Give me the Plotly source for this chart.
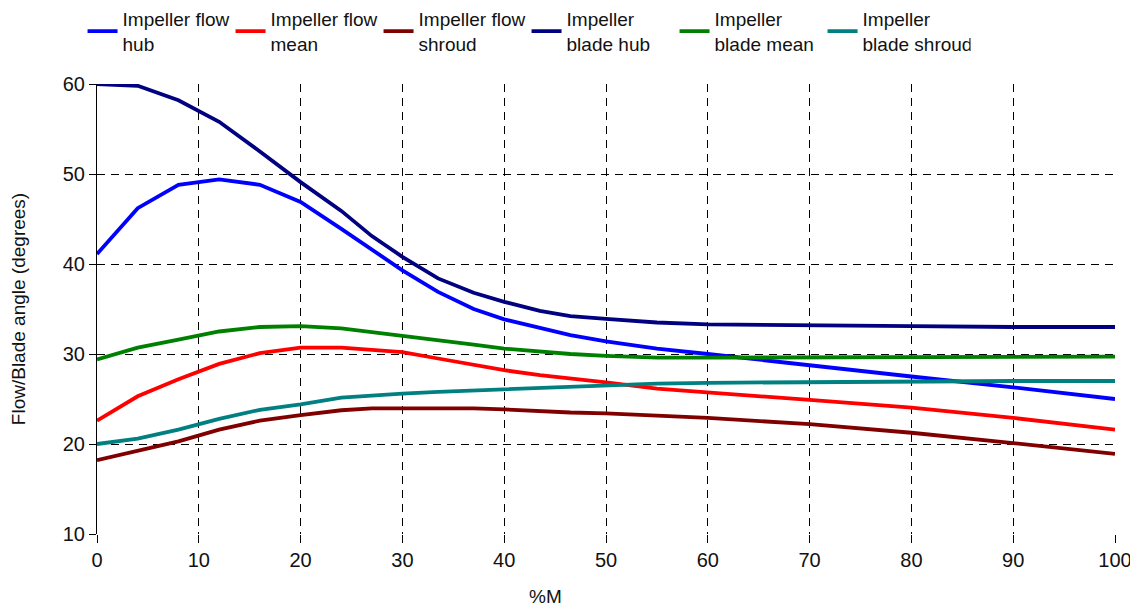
import plotly.graph_objects as go

x_pct = [0, 4, 8, 12, 16, 20, 24, 27, 30, 33.5, 37, 40, 43.5, 46.5, 50, 55, 60, 70, 80, 90, 100]

flow_hub = [41.1, 46.2, 48.8, 49.4, 48.8, 46.9, 43.9, 41.6, 39.3, 36.9, 35.0, 33.85, 32.9, 32.1, 31.4, 30.6, 30.0, 28.7, 27.5, 26.3, 25.0]
flow_mean = [22.6, 25.3, 27.2, 28.9, 30.1, 30.7, 30.7, 30.5, 30.2, 29.5, 28.8, 28.2, 27.65, 27.3, 26.85, 26.15, 25.7, 24.9, 24.05, 22.9, 21.6]
flow_shroud = [18.2, 19.2, 20.3, 21.6, 22.6, 23.2, 23.75, 23.95, 23.95, 24.0, 23.95, 23.85, 23.65, 23.5, 23.4, 23.15, 22.9, 22.2, 21.25, 20.1, 18.9]
blade_hub = [60.0, 59.8, 58.2, 55.8, 52.5, 49.1, 45.9, 43.1, 40.8, 38.4, 36.8, 35.8, 34.8, 34.2, 33.9, 33.5, 33.3, 33.15, 33.1, 33.0, 33.0]
blade_mean = [29.4, 30.7, 31.6, 32.5, 33.0, 33.1, 32.85, 32.45, 32.0, 31.5, 31.05, 30.6, 30.25, 30.0, 29.8, 29.6, 29.6, 29.65, 29.7, 29.7, 29.7]
blade_shroud = [20.0, 20.6, 21.6, 22.8, 23.8, 24.4, 25.15, 25.4, 25.6, 25.8, 25.95, 26.1, 26.25, 26.4, 26.55, 26.7, 26.8, 26.9, 26.95, 27.0, 27.0]

series_names = ["Impeller flow<br>hub", "Impeller flow<br>mean", "Impeller flow<br>shroud",
                "Impeller<br>blade hub", "Impeller<br>blade mean", "Impeller<br>blade shroud"]
series_values = [flow_hub, flow_mean, flow_shroud, blade_hub, blade_mean, blade_shroud]
series_colors = ["#0000FF", "#FF0000", "#800000", "#000080", "#008000", "#008080"]

x_ticks = list(range(0, 101, 10))
y_ticks = list(range(10, 61, 10))

fig = go.Figure()
for name, vals, col in zip(series_names, series_values, series_colors):
    fig.add_trace(go.Scatter(x=x_pct, y=vals, mode="lines", name=name,
                             line=dict(color=col, width=3.8), cliponaxis=False))

font_family = "Liberation Sans, Arial, sans-serif"
# The page body adds an 8px offset, so the figure is sized 8px smaller on each side
fig.update_layout(
    width=1130, height=601,
    margin=dict(l=89, r=23, t=76, b=75, autoexpand=False),
    paper_bgcolor="white", plot_bgcolor="white",
    font=dict(family=font_family, size=20, color="#111"),
    showlegend=True,
    legend=dict(orientation="h", x=-0.0142, xanchor="left", yref="paper", y=1.187, yanchor="top",
                font=dict(size=19, family=font_family, color="#111"),
                itemwidth=30, entrywidth=103, tracegroupgap=0, traceorder="normal",
                bgcolor="rgba(0,0,0,0)"),
    xaxis=dict(range=[0, 100], tickvals=x_ticks, ticktext=[str(v) for v in x_ticks],
               showgrid=True, gridcolor="black", gridwidth=1, griddash="8px,6px",
               zeroline=False, showline=False, ticks="outside", ticklen=8, tickcolor="black",
               tickfont=dict(size=20), automargin=False),
    yaxis=dict(range=[10, 60], tickvals=y_ticks, ticktext=[str(v) for v in y_ticks],
               showgrid=True, gridcolor="black", gridwidth=1, griddash="8px,6px",
               zeroline=False, showline=True, linecolor="black", linewidth=1.2,
               ticks="outside", ticklen=7, tickcolor="black",
               tickfont=dict(size=20), automargin=False,
               title=dict(text="Flow/Blade angle (degrees)", font=dict(size=19), standoff=38)),
    annotations=[dict(text="%M", xref="paper", yref="paper", x=0.441, y=-0.138,
                      xanchor="center", yanchor="middle", showarrow=False,
                      font=dict(size=19, family=font_family, color="#111"))],
)

fig.write_html("out.html")
